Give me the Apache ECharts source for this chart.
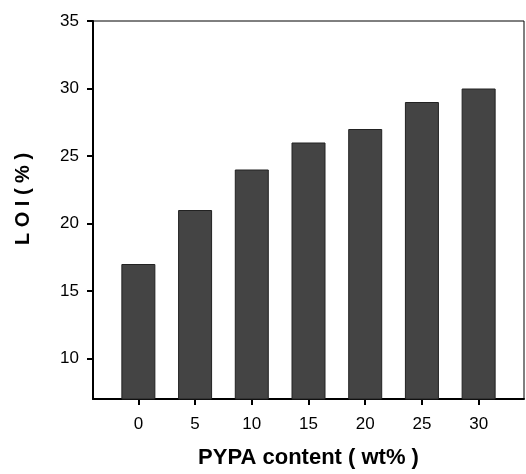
<!DOCTYPE html>
<html>
<head>
<meta charset="utf-8">
<script src="https://cdn.jsdelivr.net/npm/echarts@6/dist/echarts.min.js"></script>
<style>
	html, body { margin: 0; padding: 0; background: #fff; }
	#chart { width: 526px; height: 474px; }
</style>
</head>
<body>
<div id="chart"></div>
<script>
// 数据
const contents = [0, 5, 10, 15, 20, 25, 30];      // PYPA content (wt%)
const loiValues = [17, 21, 24, 26, 27, 29, 30];   // LOI (%)
const yTicks = [10, 15, 20, 25, 30, 35];

const chart = echarts.init(document.getElementById('chart'));

const option = {
	animation: false,
	grid: {
		left: 93,
		right: 2,
		top: 21,
		bottom: 69,
		show: true,
		borderColor: '#000',
		borderWidth: 1
	},
	xAxis: {
		type: 'value',
		min: -4,
		max: 34,
		name: 'PYPA content ( wt% )',
		nameLocation: 'middle',
		nameGap: 48,
		nameTextStyle: {
			color: '#000',
			fontSize: 22,
			fontWeight: 'bold',
			fontFamily: 'Liberation Sans'
		},
		axisLine: { onZero: false, lineStyle: { color: '#000', width: 2 } },
		axisTick: {
			show: true,
			length: 6,
			inside: false,
			customValues: contents,
			lineStyle: { color: '#000', width: 2 }
		},
		axisLabel: {
			customValues: contents,
			color: '#000',
			fontSize: 17,
			margin: 17,
			fontFamily: 'Liberation Sans'
		},
		splitLine: { show: false }
	},
	yAxis: {
		type: 'value',
		min: 7,
		max: 35,
		name: 'L O I ( % )',
		nameLocation: 'middle',
		nameGap: 60,
		nameRotate: 90,
		nameTextStyle: {
			color: '#000',
			fontSize: 20,
			fontWeight: 'bold',
			fontFamily: 'Liberation Sans',
			padding: [0, 0, 0, 22]
		},
		axisLine: { show: true, onZero: false, lineStyle: { color: '#000', width: 2 } },
		axisTick: {
			show: true,
			length: 6,
			customValues: yTicks,
			lineStyle: { color: '#000', width: 2 }
		},
		axisLabel: {
			customValues: yTicks,
			color: '#000',
			fontSize: 17,
			margin: 14,
			fontFamily: 'Liberation Sans'
		},
		splitLine: { show: false }
	},
	series: [{
		type: 'bar',
		barWidth: 34,
		data: contents.map((c, i) => [c, loiValues[i]]),
		itemStyle: {
			color: '#444',
			borderColor: '#222',
			borderWidth: 1
		}
	}]
};

chart.setOption(option);
</script>
</body>
</html>
